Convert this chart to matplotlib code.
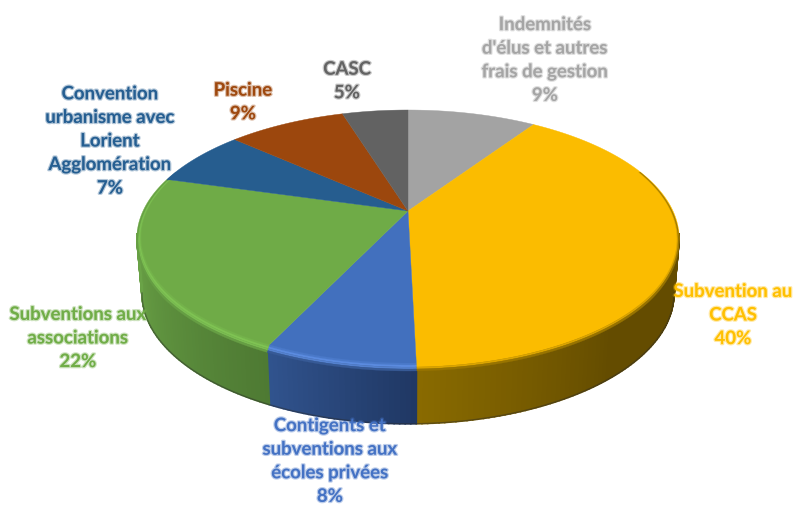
import numpy as np
import matplotlib
matplotlib.use('Agg')
from matplotlib import pyplot as plt
from matplotlib import patheffects
from matplotlib.colors import to_rgb

# slices run clockwise from the top of the pie
labels = ["Indemnités\nd'élus et autres\nfrais de gestion\n9%",
          "Subvention au\nCCAS\n40%",
          "Contigents et\nsubventions aux\nécoles privées\n8%",
          "Subventions aux\nassociations\n22%",
          "Convention\nurbanisme avec\nLorient\nAgglomération\n7%",
          "Piscine\n9%",
          "CASC\n5%"]
values = [9.4, 40.2, 7.5, 22.3, 7.2, 8.6, 4.8]

face_colors = ['#a3a3a3', '#fbbc00', '#4270be', '#6fab47', '#265d8f', '#9c470d', '#626262']
text_colors = ['#a5a5a5', '#ffc000', '#4472c4', '#70ad47', '#255e91', '#9e480e', '#636363']
glint_colors = ['#a3a3a3', '#fbbc00', '#6394ea', '#84cb57', '#265d8f', '#9c470d', '#626262']
wall_left = ['#777777', '#8a6b00', '#31548f', '#6ba447', '#265d8f', '#9c470d', '#626262']
wall_right = ['#777777', '#644c00', '#203864', '#4e7a33', '#265d8f', '#9c470d', '#626262']
label_x = [545, 733, 330, 78, 110, 243, 347]
label_y = [61, 316, 462, 339, 142, 103, 82]

# perspective view of the disc
cx = 408
tilt = 0.211


def rim(t, a, b, apex_y, r=1.0):
    u = r * np.sin(t)
    v = r * np.cos(t)
    d = 1 + tilt * v
    return cx + a * u / d, apex_y - b * v / d


def top_rim(t, r=1.0):
    return rim(t, 265, 122.3, 212, r)


def low_rim(t):
    return rim(t, 260, 124.5, 267)


def mix(c1, c2, f):
    return tuple((1 - f) * np.array(to_rgb(c1)) + f * np.array(to_rgb(c2)))


def draw_walls(ax, edges):
    for i in range(len(values)):
        t0 = max(edges[i], np.radians(100))
        t1 = min(edges[i + 1], np.radians(260))
        if t1 <= t0:
            continue
        ts = np.linspace(t0, t1, int(np.degrees(t1 - t0)) + 2)
        for j in range(len(ts) - 1):
            t = ts[j:j + 2]
            f = (t1 - t[0]) / (t1 - t0)
            if i == 1:
                f = min(1.0, f * 2.0)
            col = mix(wall_left[i], wall_right[i], f)
            xa, ya = top_rim(t)
            xb, yb = low_rim(t)
            ax.fill(np.r_[xa, xb[::-1]], np.r_[ya, yb[::-1]], facecolor=col, edgecolor=col,
                    lw=1.2, zorder=1)


def draw_faces(ax, edges):
    for i in range(len(values)):
        ts = np.linspace(edges[i], edges[i + 1], 120)
        x, y = top_rim(ts)
        ax.fill(np.r_[cx, x], np.r_[212, y], color=face_colors[i], lw=0.3, zorder=2)


def draw_bevel(ax, edges):
    steps = [0.0, 0.25, 0.5, 0.75, 1.0]
    for i in range(len(values)):
        t0 = max(edges[i], np.radians(70))
        t1 = min(edges[i + 1], np.radians(290))
        if t1 <= t0:
            continue
        ts = np.linspace(t0, t1, 100)
        for s0, s1 in zip(steps[:-1], steps[1:]):
            xa, ya = top_rim(ts, 0.985 + 0.015 * s0)
            xb, yb = top_rim(ts, 0.985 + 0.015 * s1)
            ya = ya + 5 * s0 * np.clip(-np.cos(ts) + 0.4, 0, 1)
            yb = yb + 5 * s1 * np.clip(-np.cos(ts) + 0.4, 0, 1)
            s = (s0 + s1) / 2
            if s < 0.5:
                col = mix(face_colors[i], glint_colors[i], s * 2)
            else:
                mid = mix(wall_left[i], wall_right[i], 0.5)
                col = mix(glint_colors[i], mid, s * 2 - 1)
            ax.fill(np.r_[xa, xb[::-1]], np.r_[ya, yb[::-1]], color=col, lw=0.2, zorder=3)


def main():
    fig = plt.figure(figsize=(7.94, 5.06), dpi=100)
    ax = fig.add_axes([0, 0, 1, 1])
    ax.set_xlim(0, 794)
    ax.set_ylim(506, 0)
    ax.axis('off')

    edges = np.radians(np.r_[0, np.cumsum(values)] * 360 / np.sum(values))
    draw_walls(ax, edges)
    draw_faces(ax, edges)
    draw_bevel(ax, edges)

    # thin dark line under the wall
    ts = np.radians(np.linspace(102, 258, 200))
    x, y = low_rim(ts)
    ax.plot(x, y, color='#2a2a2a', lw=1.0, alpha=0.45, zorder=2)

    for i, lab in enumerate(labels):
        txt = ax.text(label_x[i], label_y[i], lab, color=text_colors[i], ha='center', va='center',
                      family='Lato', weight='bold', fontsize=13.4, linespacing=1.47, zorder=5)
        txt.set_path_effects([patheffects.withStroke(linewidth=1.8, foreground=text_colors[i], alpha=0.35)])

    fig.savefig('out.png', dpi=100)


if __name__ == '__main__':
    main()
